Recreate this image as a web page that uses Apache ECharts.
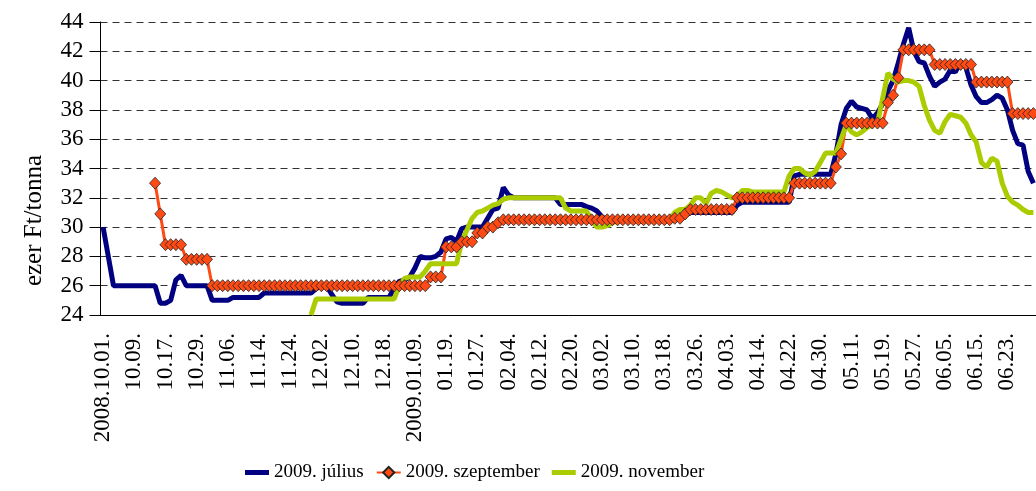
<!DOCTYPE html>
<html>
<head>
<meta charset="utf-8">
<script src="https://cdn.jsdelivr.net/npm/echarts@6/dist/echarts.min.js"></script>
<style>
  html, body { margin: 0; padding: 0; background: #fff; }
  #chart { width: 1036px; height: 491px; }
</style>
</head>
<body>
<div id="chart"></div>
<script>
// every 6th trading day gets a label
var tickLabels = ['2008.10.01.', '10.09.', '10.17.', '10.29.', '11.06.', '11.14.', '11.24.', '12.02.', '12.10.', '12.18.',
  '2009.01.09.', '01.19.', '01.27.', '02.04.', '02.12.', '02.20.', '03.02.', '03.10.', '03.18.', '03.26.',
  '04.03.', '04.14.', '04.22.', '04.30.', '05.11.', '05.19.', '05.27.', '06.05.', '06.15.', '06.23.'];

var julius = [
  30, 28, 26, 26, 26, 26, 26, 26, 26, 26,
  26, 24.8, 24.8, 25.0, 26.4, 26.7, 26.0, 26, 26, 26,
  26, 25.0, 25.0, 25.0, 25.0, 25.2, 25.2, 25.2, 25.2, 25.2,
  25.2, 25.5, 25.5, 25.5, 25.5, 25.5, 25.5, 25.5, 25.5, 25.5,
  25.5, 25.8, 26.0, 26.0, 25.4, 24.9, 24.8, 24.8, 24.8, 24.8,
  24.8, 25.2, 25.2, 25.2, 25.2, 25.2, 25.8, 26.3, 26.4, 26.6,
  27.2, 28.0, 27.9, 27.9, 28.0, 28.3, 29.2, 29.3, 29.0, 29.9,
  30.0, 30.0, 30.0, 30.0, 30.6, 31.2, 31.3, 32.7, 32.2, 32.0,
  32.0, 32.0, 32.0, 32.0, 32.0, 32.0, 32.0, 32.0, 31.55, 31.55,
  31.55, 31.55, 31.55, 31.4, 31.3, 31.1, 30.7, 30.5, 30.5, 30.5,
  30.5, 30.5, 30.5, 30.5, 30.5, 30.5, 30.5, 30.5, 30.5, 30.5,
  30.5, 30.6, 30.8, 31.0, 31.0, 31.0, 31.0, 31.0, 31.0, 31.0,
  31.0, 31.0, 31.5, 31.7, 31.7, 31.7, 31.7, 31.7, 31.7, 31.7,
  31.7, 31.7, 31.7, 33.5, 33.6, 33.6, 33.6, 33.6, 33.6, 33.6,
  33.6, 35.0, 37.0, 38.1, 38.6, 38.2, 38.1, 38.0, 37.4, 37.8,
  38.4, 39.3, 40.0, 41.2, 42.5, 43.6, 42.0, 41.3, 41.2, 40.3,
  39.6, 39.9, 40.1, 40.7, 40.6, 41.3, 40.9, 39.7, 38.9, 38.5,
  38.5, 38.7, 39.0, 38.8, 38.0, 36.6, 35.7, 35.6, 33.8, 33.0
];

var szeptember = [
  null, null, null, null, null, null, null, null, null, null,
  33.0, 30.9, 28.8, 28.8, 28.8, 28.8, 27.8, 27.8, 27.8, 27.8,
  27.8, 26, 26, 26, 26, 26, 26, 26, 26, 26,
  26, 26, 26, 26, 26, 26, 26, 26, 26, 26,
  26, 26, 26, 26, 26, 26, 26, 26, 26, 26,
  26, 26, 26, 26, 26, 26, 26, 26, 26, 26,
  26, 26, 26, 26.6, 26.6, 26.6, 28.65, 28.65, 28.65, 29.0,
  29.0, 29.0, 29.6, 29.6, 30.0, 30.0, 30.3, 30.5, 30.5, 30.5,
  30.5, 30.5, 30.5, 30.5, 30.5, 30.5, 30.5, 30.5, 30.5, 30.5,
  30.5, 30.5, 30.5, 30.5, 30.5, 30.5, 30.5, 30.5, 30.5, 30.5,
  30.5, 30.5, 30.5, 30.5, 30.5, 30.5, 30.5, 30.5, 30.5, 30.5,
  30.6, 30.6, 30.9, 31.2, 31.2, 31.2, 31.2, 31.2, 31.2, 31.2,
  31.2, 31.2, 32.0, 32.0, 32.0, 32.0, 32.0, 32.0, 32.0, 32.0,
  32.0, 32.0, 32.0, 33.0, 33.0, 33.0, 33.0, 33.0, 33.0, 33.0,
  33.0, 34.1, 35.0, 37.1, 37.1, 37.1, 37.1, 37.1, 37.1, 37.1,
  37.1, 38.5, 39.0, 40.2, 42.1, 42.1, 42.1, 42.1, 42.1, 42.1,
  41.1, 41.1, 41.1, 41.1, 41.1, 41.1, 41.1, 41.1, 39.9, 39.9,
  39.9, 39.9, 39.9, 39.9, 39.9, 37.75, 37.75, 37.75, 37.75, 37.75
];

var november = [
  null, null, null, null, null, null, null, null, null, null,
  null, null, null, null, null, null, null, null, null, null,
  null, null, null, null, null, null, null, null, null, null,
  null, null, null, null, null, null, null, null, null, null,
  24.0, 25.1, 25.1, 25.1, 25.1, 25.1, 25.1, 25.1, 25.1, 25.1,
  25.1, 25.1, 25.1, 25.1, 25.1, 25.1, 25.1, 26.0, 26.5, 26.6,
  26.6, 26.6, 27.0, 27.5, 27.5, 27.5, 27.5, 27.5, 27.5, 29.0,
  29.8, 30.6, 31.0, 31.1, 31.3, 31.5, 31.6, 31.9, 32.0, 32.0,
  32.0, 32.0, 32.0, 32.0, 32.0, 32.0, 32.0, 32.0, 32.0, 31.3,
  31.1, 31.1, 31.1, 31.1, 30.5, 30.0, 30.0, 30.1, 30.3, 30.4,
  30.5, 30.5, 30.5, 30.5, 30.5, 30.5, 30.5, 30.5, 30.5, 30.5,
  31.0, 31.2, 31.2, 31.5, 32.0, 32.0, 31.6, 32.3, 32.5, 32.4,
  32.2, 32.0, 32.1, 32.5, 32.5, 32.4, 32.4, 32.4, 32.4, 32.4,
  32.4, 32.4, 33.5, 34.0, 34.0, 33.7, 33.55, 33.8, 34.4, 35.05,
  35.05, 35.05, 36.0, 37.0, 36.5, 36.3, 36.5, 36.8, 37.0, 37.1,
  38.8, 40.5, 40.1, 39.9, 40.0, 40.0, 39.9, 39.6, 38.3, 37.3,
  36.6, 36.4, 37.2, 37.7, 37.6, 37.5, 37.1, 36.3, 35.8, 34.4,
  34.1, 34.7, 34.5, 33.0, 32.1, 31.7, 31.5, 31.2, 31.0, 31.0
];

var days = [];
tickLabels.forEach(function (t) {
  days.push(t, '', '', '', '', '');
});

var font = 'Liberation Serif';
var lineIcon = 'path://M0,0L24,0L24,5L0,5Z';
var chart = echarts.init(document.getElementById('chart'));
chart.setOption({
  animation: false,
  backgroundColor: '#fff',
  grid: {
    left: 100.5,
    top: 22,
    width: 945,
    height: 293
  },
  legend: {
    left: 240,
    top: 458,
    itemWidth: 24,
    itemHeight: 14,
    itemGap: 12,
    textStyle: { fontFamily: font, fontSize: 19, color: '#000' },
    data: [
      { name: '2009. július', icon: lineIcon },
      { name: '2009. szeptember' },
      { name: '2009. november', icon: lineIcon }
    ]
  },
  xAxis: {
    type: 'category',
    data: days,
    boundaryGap: true,
    axisLine: { lineStyle: { color: '#000', width: 1 } },
    axisTick: { interval: 0, length: 6, lineStyle: { color: '#000' } },
    axisLabel: {
      interval: 5,
      rotate: 90,
      margin: 18,
      fontFamily: font,
      fontSize: 23,
      color: '#000'
    },
    splitLine: { show: false }
  },
  yAxis: {
    type: 'value',
    min: 24,
    max: 44,
    interval: 2,
    name: 'ezer Ft/tonna',
    nameLocation: 'middle',
    nameRotate: 90,
    nameGap: 54,
    nameTextStyle: { fontFamily: font, fontSize: 25, color: '#000', padding: [0, 104, 0, 0] },
    axisLine: { show: true, lineStyle: { color: '#000', width: 1 } },
    axisTick: { show: true, length: 11, lineStyle: { color: '#000' } },
    axisLabel: { margin: 17, fontFamily: font, fontSize: 23, color: '#000' },
    splitLine: { lineStyle: { color: '#333', type: [7, 5], width: 1 } }
  },
  series: [
    {
      name: '2009. július',
      type: 'line',
      data: julius,
      symbol: 'none',
      lineStyle: { color: '#000080', width: 5 },
      itemStyle: { color: '#000080' }
    },
    {
      name: '2009. szeptember',
      type: 'line',
      data: szeptember,
      symbol: 'diamond',
      symbolSize: [11, 12],
      showAllSymbol: true,
      lineStyle: { color: '#FF4A14', width: 3 },
      itemStyle: { color: '#FF4A14', borderColor: '#222', borderWidth: 0.8 }
    },
    {
      name: '2009. november',
      type: 'line',
      data: november,
      symbol: 'none',
      lineStyle: { color: '#AACC00', width: 5 },
      itemStyle: { color: '#AACC00' }
    }
  ]
});
</script>
</body>
</html>
